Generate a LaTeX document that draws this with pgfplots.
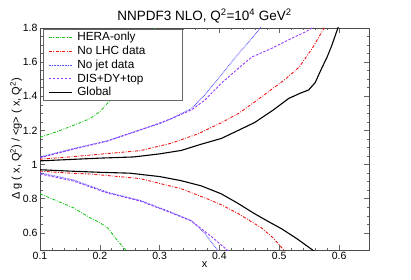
\documentclass[border=0pt]{standalone}
\usepackage{pgfplots}
\pgfplotsset{compat=1.18}
\usepackage{fontspec}
\setmainfont{Liberation Sans}
\setsansfont{Liberation Sans}
\definecolor{heragreen}{RGB}{30,200,30}
\definecolor{nolhcred}{RGB}{240,20,20}
\definecolor{nojetblue}{RGB}{80,80,255}
\definecolor{disviolet}{RGB}{150,60,255}
\tikzset{
  herastyle/.style={color=heragreen, draw=heragreen, line width=0.9pt, dash pattern=on 3pt off 1.5pt on 0.8pt off 1.5pt},
  lhcstyle/.style={color=nolhcred, draw=nolhcred, line width=0.9pt, dash pattern=on 3pt off 1.5pt on 0.8pt off 1.5pt},
  jetstyle/.style={color=nojetblue, draw=nojetblue, line width=0.9pt, dash pattern=on 0.8pt off 0.8pt},
  disstyle/.style={color=disviolet, draw=disviolet, line width=0.9pt, dash pattern=on 2.5pt off 1.5pt},
  globstyle/.style={color=black, draw=black, line width=1.1pt, solid},
}
\newcommand{\limg}[1]{\addlegendimage{#1, legend image code/.code={\draw[#1] (2pt,0pt) -- (25pt,0pt); \path (0pt,0pt) (28pt,0pt);}}}
\begin{document}
\begin{tikzpicture}
\useasboundingbox (-40pt,-29pt) rectangle (371pt,250pt);
\begin{axis}[
  at={(0,0)}, anchor=south west,
  scale only axis, width=329pt, height=222pt,
  xmin=0.1, xmax=0.65, ymin=0.5, ymax=1.8,
  xtick={0.1,0.2,0.3,0.4,0.5,0.6},
  ytick={0.6,0.8,1,1.2,1.4,1.6,1.8},
  yticklabels={0.6,0.8,1,1.2,1.4,1.6,1.8},
  xticklabels={0.1,0.2,0.3,0.4,0.5,0.6},
  minor x tick num=4, minor y tick num=3,
  tick align=inside,
  major tick length=5pt, minor tick length=2.5pt,
  every tick/.style={black!60, line width=0.6pt},
  axis line style={black!70, line width=0.8pt},
  ticklabel style={font=\fontsize{10.5}{12}\selectfont},
  xticklabel style={yshift=1pt},
  yticklabel style={xshift=1pt},
  title={NNPDF3 NLO, Q\textsuperscript{2}=10\textsuperscript{4} GeV\textsuperscript{2}},
  title style={font=\fontsize{13.5}{15}\selectfont, yshift=-5pt},
  xlabel={x},
  xlabel style={font=\fontsize{11}{12}\selectfont, yshift=5pt},
  ylabel={Δ g ( x, Q\textsuperscript{2}) / <g> ( x, Q\textsuperscript{2})},
  ylabel style={font=\fontsize{11}{12}\selectfont, yshift=-6pt},
  legend style={at={(0.009,0.995)}, anchor=north west,
    draw=black!60, fill=white, font=\fontsize{11.8}{13}\selectfont,
    row sep=-0.2pt, inner xsep=3pt, inner ysep=1pt},
  legend cell align=left,
]
\limg{herastyle}
\addlegendentry{HERA-only}
\limg{lhcstyle}
\addlegendentry{No LHC data}
\limg{jetstyle}
\addlegendentry{No jet data}
\limg{disstyle}
\addlegendentry{DIS+DY+top\hspace*{34pt}}
\limg{globstyle}
\addlegendentry{Global}
% upper bands
\addplot[herastyle, forget plot] coordinates {
(0.1,1.16) (0.13,1.195) (0.156,1.23) (0.184,1.27) (0.2,1.31) (0.213,1.36) (0.23,1.42) (0.25,1.52) (0.27,1.63) (0.29,1.78) (0.295,1.83)};
\addplot[lhcstyle, forget plot] coordinates {
(0.1,1.032) (0.15,1.045) (0.213,1.065) (0.268,1.082) (0.319,1.125) (0.364,1.18) (0.403,1.245) (0.432,1.30) (0.46,1.37) (0.487,1.44) (0.51,1.50) (0.533,1.57) (0.555,1.68) (0.575,1.80) (0.585,1.87)};
\addplot[jetstyle, forget plot] coordinates {
(0.1,1.045) (0.156,1.094) (0.213,1.14) (0.268,1.205) (0.3,1.24) (0.319,1.269) (0.353,1.328) (0.375,1.406) (0.403,1.524) (0.432,1.65) (0.454,1.74) (0.47,1.806) (0.48,1.86)};
\addplot[disstyle, forget plot] coordinates {
(0.1,1.04) (0.156,1.09) (0.213,1.138) (0.268,1.203) (0.319,1.268) (0.353,1.32) (0.375,1.376) (0.403,1.476) (0.432,1.565) (0.454,1.63) (0.487,1.68) (0.521,1.74) (0.543,1.776) (0.555,1.80) (0.565,1.83)};
\addplot[globstyle, forget plot] coordinates {
(0.1,1.022) (0.15,1.03) (0.2,1.038) (0.257,1.045) (0.3,1.063) (0.336,1.083) (0.37,1.12) (0.403,1.153) (0.43,1.198) (0.459,1.247) (0.49,1.32) (0.516,1.388) (0.535,1.418) (0.549,1.437) (0.56,1.48) (0.571,1.565) (0.58,1.63) (0.588,1.70) (0.598,1.80) (0.605,1.87)};
% lower bands
\addplot[herastyle, forget plot] coordinates {
(0.1,0.829) (0.13,0.785) (0.156,0.747) (0.184,0.688) (0.2,0.66) (0.213,0.63) (0.23,0.553) (0.246,0.49) (0.255,0.45)};
\addplot[lhcstyle, forget plot] coordinates {
(0.1,0.962) (0.15,0.95) (0.184,0.945) (0.232,0.93) (0.268,0.918) (0.3,0.89) (0.336,0.859) (0.375,0.806) (0.403,0.765) (0.432,0.712) (0.47,0.63) (0.49,0.57) (0.509,0.494) (0.52,0.46)};
\addplot[jetstyle, forget plot] coordinates {
(0.1,0.952) (0.156,0.91) (0.213,0.838) (0.268,0.79) (0.319,0.722) (0.353,0.672) (0.375,0.60) (0.398,0.494) (0.405,0.46)};
\addplot[disstyle, forget plot] coordinates {
(0.1,0.945) (0.156,0.904) (0.213,0.833) (0.268,0.786) (0.319,0.718) (0.353,0.67) (0.386,0.58) (0.415,0.494) (0.422,0.46)};
\addplot[globstyle, forget plot] coordinates {
(0.1,0.97) (0.15,0.962) (0.2,0.955) (0.25,0.95) (0.3,0.93) (0.336,0.906) (0.37,0.875) (0.403,0.829) (0.43,0.775) (0.459,0.712) (0.48,0.67) (0.504,0.624) (0.53,0.565) (0.558,0.494) (0.57,0.46)};
\end{axis}
\end{tikzpicture}
\end{document}
